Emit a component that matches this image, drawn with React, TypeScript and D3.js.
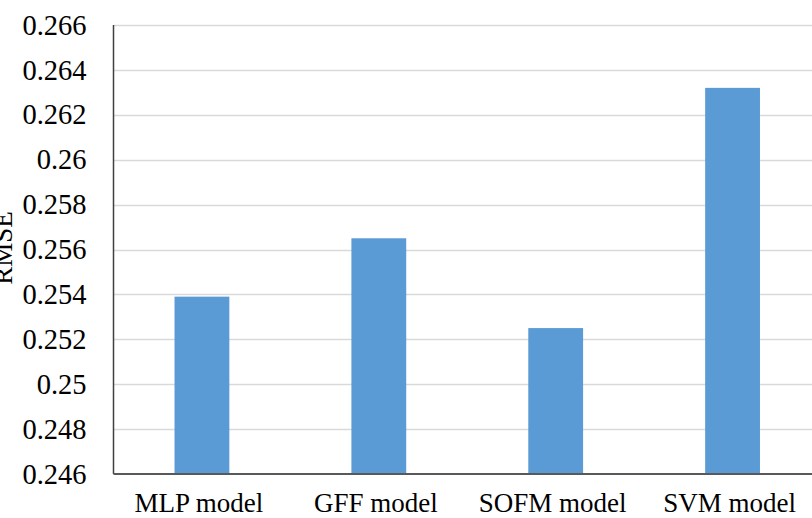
import React from "react";
import * as d3 from "d3";

const categories = ["MLP model", "GFF model", "SOFM model", "SVM model"];
const values = [0.2539, 0.2565, 0.2525, 0.2632];
const yTicks = [0.246, 0.248, 0.25, 0.252, 0.254, 0.256, 0.258, 0.26, 0.262, 0.264, 0.266];
const yTitle = "RMSE";

export default function App() {
  const W = 812, H = 518;
  const left = 113.5, right = 821, top = 25, bottom = 474;
  const x = d3.scaleBand<string>().domain(categories).range([left, right]).paddingInner(0.69).paddingOuter(0.345);
  const y = d3.scaleLinear().domain([0.246, 0.266]).range([bottom, top]);
  const font = "'Liberation Serif', 'Times New Roman', serif";
  const fmt = (v: number) => String(+v.toFixed(3));
  return (
    <svg width={W} height={H} style={{ position: "absolute", left: 0, top: 0, background: "#fff" }} fontFamily={font}>
      {yTicks.map((t) => (
        <g key={t}>
          {t > 0.246 && (
            <line x1={left} x2={W} y1={Math.round(y(t)) + 0.5} y2={Math.round(y(t)) + 0.5} stroke="#d9d9d9" strokeWidth={1.5} />
          )}
          <text x={86.5} y={y(t)} dy="0.34em" textAnchor="end" fontSize={28.5} fill="#000">
            {fmt(t)}
          </text>
        </g>
      ))}
      {categories.map((c, i) => (
        <rect key={c} x={x(c)} width={x.bandwidth()} y={y(values[i])} height={bottom - y(values[i])} fill="#5b9bd5" />
      ))}
      <line x1={left} x2={left} y1={top} y2={bottom} stroke="#404040" strokeWidth={1.5} />
      <line x1={left} x2={W} y1={bottom} y2={bottom} stroke="#595959" strokeWidth={2} />
      {categories.map((c) => (
        <text key={c} x={(x(c) as number) + x.bandwidth() / 2 - 3} y={512} textAnchor="middle" fontSize={27} fill="#000">
          {c}
        </text>
      ))}
      <text transform={`translate(12,248) rotate(-90)`} textAnchor="middle" fontSize={27} fill="#000">
        {yTitle}
      </text>
    </svg>
  );
}
